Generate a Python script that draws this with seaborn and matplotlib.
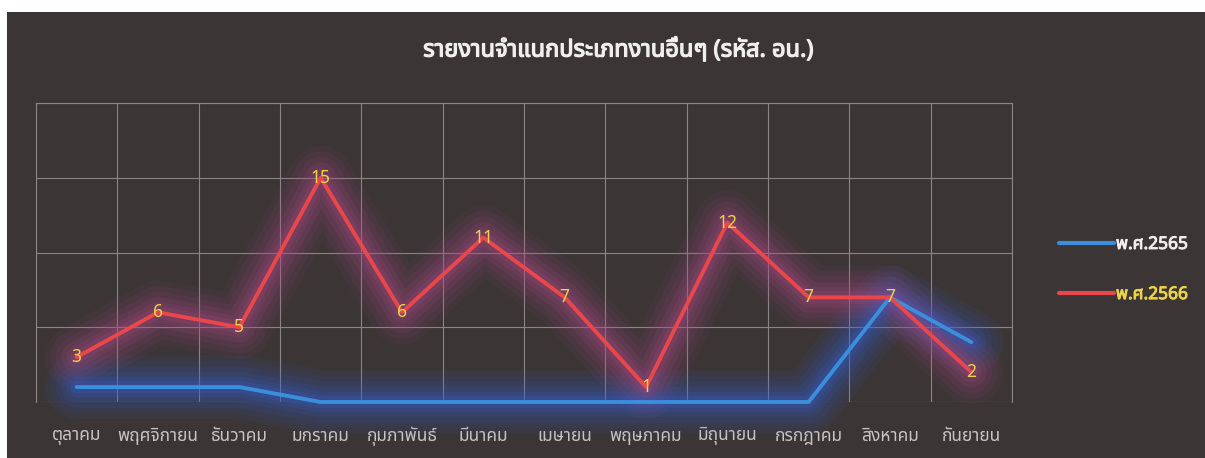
import numpy as np
import pandas as pd
import matplotlib
matplotlib.use("Agg")
import matplotlib.pyplot as plt
import seaborn as sns
from matplotlib import font_manager
from matplotlib.patches import Rectangle
from matplotlib.lines import Line2D
import matplotlib.patheffects as pe

# ---------------- data ----------------
months = ["ตุลาคม", "พฤศจิกายน", "ธันวาคม", "มกราคม", "กุมภาพันธ์", "มีนาคม",
          "เมษายน", "พฤษภาคม", "มิถุนายน", "กรกฎาคม", "สิงหาคม", "กันยายน"]
series_names = ["พ.ศ.2565", "พ.ศ.2566"]
values_2565 = [1, 1, 1, 0, 0, 0, 0, 0, 0, 0, 7, 4]
values_2566 = [3, 6, 5, 15, 6, 11, 7, 1, 12, 7, 7, 2]
title_text = "รายงานจำแนกประเภทงานอื่นๆ (รหัส. อน.)"

# ---------------- font with Thai coverage ----------------
def find_thai_font():
    try:
        from fontTools.ttLib import TTFont
    except Exception:
        return None
    found = []
    for f in font_manager.fontManager.ttflist:
        try:
            t = TTFont(f.fname, fontNumber=0, lazy=True)
            cmap = t.getBestCmap()
            if cmap and 0x0E23 in cmap and 0x0E08 in cmap:
                found.append(f.name)
        except Exception:
            pass
    if not found:
        return None
    for pref in ["Noto Sans Thai", "Noto Sans Thai UI", "Tahoma", "Loma", "Garuda"]:
        if pref in found:
            return pref
    return found[0]

sns.set_theme(style="dark")
thai = find_thai_font()
fam = ([thai] if thai else []) + ["DejaVu Sans"]
plt.rcParams["font.family"] = fam

bg = "#3b3536"
grid_c = "#8a8485"
red = "#ea474b"
blue = "#3a8fdc"
yellow = "#ecd44a"

fig = plt.figure(figsize=(12.05, 4.58), dpi=100)
fig.patch.set_facecolor("white")
fig.add_artist(Rectangle((7 / 1205, 0), 1 - 7 / 1205, 1 - 12 / 458,
                         transform=fig.transFigure, facecolor=bg,
                         edgecolor="none", zorder=-10))

ax = fig.add_axes([36 / 1205, 56 / 458, 976 / 1205, 299 / 458])
ax.set_facecolor("none")

df = pd.DataFrame({
    "month": months * 2,
    "x": list(range(len(months))) * 2,
    "value": values_2565 + values_2566,
    "series": [series_names[0]] * len(months) + [series_names[1]] * len(months),
})
d65 = df[df["series"] == series_names[0]]
d66 = df[df["series"] == series_names[1]]

# glow layers
for lw, a in [(46, 0.07), (38, 0.08), (30, 0.10), (22, 0.12), (15, 0.15), (9, 0.2)]:
    sns.lineplot(data=d65, x="x", y="value", ax=ax, color="#3560d8", lw=lw,
                 alpha=a, legend=False, solid_capstyle="round",
                 solid_joinstyle="round")
    sns.lineplot(data=d66, x="x", y="value", ax=ax, color="#b04a88", lw=lw,
                 alpha=a, legend=False, solid_capstyle="round",
                 solid_joinstyle="round")

sns.lineplot(data=d65, x="x", y="value", ax=ax, color=blue, lw=2.8,
             legend=False, solid_joinstyle="round")
sns.lineplot(data=d66, x="x", y="value", ax=ax, color=red, lw=2.8,
             legend=False, solid_joinstyle="round")
for ln in ax.lines:
    ln.set_clip_on(False)

for xi, v in zip(d66["x"], d66["value"]):
    ax.text(xi, v, str(v), ha="center", va="center", color=yellow,
            fontsize=12.5, zorder=5)

ax.set_xlim(-0.5, len(months) - 0.5)
ax.set_ylim(0, 20)
ax.set_xticks(range(len(months)))
ax.set_xticklabels(months, color="#c9c4c4", fontsize=12.5)
ax.set_xticks(np.arange(-0.5, len(months), 1.0), minor=True)
ax.set_yticks([0, 5, 10, 15, 20])
ax.set_yticklabels([])
ax.tick_params(axis="x", which="both", length=0, pad=18)
ax.tick_params(axis="y", length=0)
ax.grid(False)
ax.grid(True, axis="x", which="minor", color=grid_c, lw=0.8)
ax.grid(True, axis="y", which="major", color=grid_c, lw=0.8)
for s in ["top", "left", "right"]:
    ax.spines[s].set_visible(True)
    ax.spines[s].set_color(grid_c)
    ax.spines[s].set_linewidth(0.8)
ax.spines["bottom"].set_visible(False)
ax.set_xlabel("")
ax.set_ylabel("")

bold_fx = [pe.withStroke(linewidth=0.9, foreground="#f0eeee")]
fig.text(618 / 1205, 1 - 50 / 458, title_text, ha="center", va="center",
         color="#f0eeee", fontsize=17, fontweight="bold", path_effects=bold_fx)

handles = [Line2D([], [], color=blue, lw=3), Line2D([], [], color=red, lw=3)]
leg = fig.legend(handles, series_names, loc="center left",
                 bbox_to_anchor=(1043 / 1205, 1 - 269 / 458),
                 frameon=False, handlelength=3.2,
                 handletextpad=0.1, labelspacing=1.85,
                 prop={"weight": "bold", "size": 12.5})
leg.get_texts()[0].set_color("#f0eeee")
leg.get_texts()[0].set_path_effects([pe.withStroke(linewidth=0.7, foreground="#f0eeee")])
leg.get_texts()[1].set_color(yellow)
leg.get_texts()[1].set_path_effects([pe.withStroke(linewidth=0.7, foreground=yellow)])

fig.savefig("out.png", dpi=100, facecolor=fig.get_facecolor())
